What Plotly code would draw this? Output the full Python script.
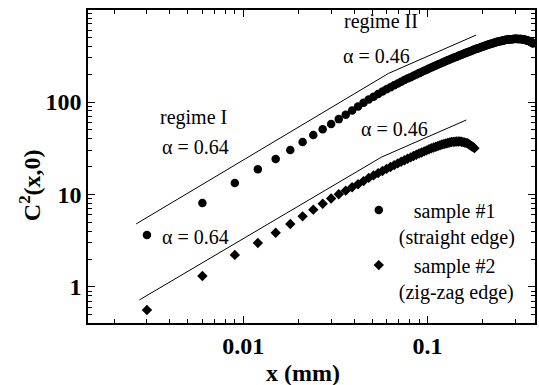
import plotly.graph_objects as go

# ---- data ----
x1 = [0.003, 0.006, 0.009, 0.012, 0.015, 0.018, 0.021, 0.024, 0.027, 0.030,
      0.033, 0.036, 0.039, 0.042, 0.045, 0.048, 0.051, 0.054, 0.057, 0.060,
      0.063, 0.066, 0.069, 0.072, 0.075, 0.078, 0.081, 0.084, 0.087, 0.090,
      0.093, 0.096, 0.099, 0.102, 0.105, 0.108, 0.111, 0.114, 0.117, 0.120,
      0.123, 0.126, 0.129, 0.132, 0.135, 0.138, 0.141, 0.144, 0.147, 0.150,
      0.153, 0.156, 0.159, 0.162, 0.165, 0.168, 0.171, 0.174, 0.177, 0.180,
      0.183, 0.186, 0.189, 0.192, 0.195, 0.198, 0.201, 0.204, 0.207, 0.210,
      0.213, 0.216, 0.219, 0.222, 0.225, 0.228, 0.231, 0.234, 0.237, 0.240,
      0.243, 0.246, 0.249, 0.252, 0.255, 0.258, 0.261, 0.264, 0.267, 0.270,
      0.273, 0.276, 0.279, 0.282, 0.285, 0.288, 0.291, 0.294, 0.297, 0.300,
      0.303, 0.306, 0.309, 0.312, 0.315, 0.318, 0.321, 0.324, 0.327, 0.330,
      0.333, 0.336, 0.339, 0.342, 0.345, 0.348, 0.351, 0.354, 0.357, 0.360,
      0.363, 0.366, 0.369, 0.372, 0.375]
y1 = [3.65, 8.1, 13.3, 18.7, 24.2, 30.3, 37.0, 44.0, 50.8, 57.8,
      65.3, 73.0, 81.0, 89.5, 98.0, 106.5, 114.1, 121.8, 129.7, 137.5,
      144.5, 151.6, 158.6, 165.6, 172.7, 179.2, 185.7, 192.3, 198.8, 205.3,
      211.4, 217.6, 223.7, 229.8, 235.9, 241.9, 248.0, 254.0, 260.0, 266.0,
      271.5, 277.0, 282.5, 287.8, 293.2, 298.6, 304.0, 309.4, 314.7, 320.1,
      325.1, 330.0, 334.9, 339.9, 344.7, 349.6, 354.5, 359.3, 364.2, 369.0,
      373.5, 377.9, 382.2, 386.6, 390.8, 395.2, 399.5, 403.8, 408.1, 412.3,
      415.9, 419.6, 423.2, 426.8, 430.4, 433.9, 437.5, 441.0, 444.5, 448.0,
      450.5, 452.9, 455.5, 457.9, 460.3, 462.8, 465.2, 467.6, 469.9, 472.3,
      473.4, 474.4, 475.4, 476.4, 477.4, 478.4, 479.4, 480.4, 481.4, 482.4,
      481.9, 481.4, 480.9, 480.5, 480.0, 479.6, 479.2, 478.7, 478.3, 477.8,
      475.2, 472.7, 470.2, 467.7, 465.3, 462.9, 460.5, 458.1, 455.8, 453.5,
      448.6, 443.9, 439.2, 434.6, 430.1]

x2 = [0.003, 0.006, 0.009, 0.012, 0.015, 0.018, 0.021, 0.024, 0.027, 0.030,
      0.033, 0.036, 0.039, 0.042, 0.045, 0.048, 0.051, 0.054, 0.057, 0.060,
      0.063, 0.066, 0.069, 0.072, 0.075, 0.078, 0.081, 0.084, 0.087, 0.090,
      0.093, 0.096, 0.099, 0.102, 0.105, 0.108, 0.111, 0.114, 0.117, 0.120,
      0.123, 0.126, 0.129, 0.132, 0.135, 0.138, 0.141, 0.144, 0.147, 0.150,
      0.153, 0.156, 0.159, 0.162, 0.165, 0.168, 0.171, 0.174, 0.177, 0.180]
y2 = [0.564, 1.315, 2.22, 2.99, 3.86, 4.80, 5.80, 6.85, 7.95, 9.05,
      10.05, 11.0, 11.95, 12.9, 13.95, 15.1, 16.08, 17.03, 17.97, 18.92,
      19.84, 20.75, 21.67, 22.58, 23.49, 24.33, 25.18, 26.02, 26.85, 27.69,
      28.47, 29.24, 30.02, 30.79, 31.56, 32.19, 32.81, 33.43, 34.04, 34.65,
      35.13, 35.60, 36.06, 36.52, 36.97, 37.09, 37.21, 37.33, 37.44, 37.56,
      37.19, 36.84, 36.48, 36.14, 35.81, 34.91, 34.07, 33.25, 32.48, 31.70]

# power-law guide lines (start, crossover, end)
fit1_x = [0.00262, 0.0615, 0.184]
fit1_y = [4.8, 204.0, 530.0]
fit2_x = [0.00273, 0.0564, 0.1626]
fit2_y = [0.724, 25.4, 63.9]

names = ["\u00a0\u00a0\u00a0sample #1<br>(straight edge)",
         "\u00a0\u00a0\u00a0sample #2<br>(zig-zag edge)"]

SERIF = "Liberation Serif, Times New Roman, serif"

fig = go.Figure()
fig.add_trace(go.Scatter(x=fit1_x, y=fit1_y, mode="lines",
                         line=dict(color="black", width=1), showlegend=False,
                         hoverinfo="skip"))
fig.add_trace(go.Scatter(x=fit2_x, y=fit2_y, mode="lines",
                         line=dict(color="black", width=1), showlegend=False,
                         hoverinfo="skip"))
fig.add_trace(go.Scatter(x=x1, y=y1, mode="markers", name=names[0],
                         marker=dict(symbol="circle", size=8.5, color="black")))
fig.add_trace(go.Scatter(x=x2, y=y2, mode="markers", name=names[1],
                         marker=dict(symbol="diamond", size=8, color="black")))

axis_common = dict(
    type="log", showgrid=False, zeroline=False,
    showline=True, linecolor="black", linewidth=1.5, mirror="ticks",
    ticks="inside", ticklen=7, tickwidth=1.2, tickcolor="black",
    dtick=1,
    tickfont=dict(family=SERIF, size=24, color="black", weight="bold"),
    minor=dict(ticks="inside", ticklen=4, tickwidth=1, tickcolor="black",
               dtick="D1", showgrid=False),
)

fig.update_layout(
    width=539, height=385,
    margin=dict(l=88, r=2, t=10, b=62),
    paper_bgcolor="white", plot_bgcolor="white",
    xaxis=dict(axis_common, range=[-2.843, -0.416]),
    yaxis=dict(axis_common, range=[-0.39, 2.995]),
    legend=dict(x=0.6058, y=0.423, xanchor="left", yanchor="top",
                bgcolor="rgba(0,0,0,0)", valign="top",
                font=dict(family=SERIF, size=20, color="black"),
                tracegroupgap=0),
    font=dict(family=SERIF, color="black"),
)

ann_font = dict(family=SERIF, size=20, color="black")
texts = [
    ("regime II", 0.6548, 0.9617),
    ("\u03b1 = 0.46", 0.6459, 0.853),
    ("regime I", 0.2361, 0.655),
    ("\u03b1 = 0.64", 0.2405, 0.5623),
    ("\u03b1 = 0.46", 0.686, 0.6198),
    ("\u03b1 = 0.64", 0.2405, 0.2748),
]
for t, xp, yp in texts:
    fig.add_annotation(text=t, x=xp, y=yp, xref="paper", yref="paper",
                       showarrow=False, font=ann_font,
                       xanchor="center", yanchor="middle")

fig.add_annotation(text="<b>x (mm)</b>", x=0.48, y=-0.16, xref="paper",
                   yref="paper", showarrow=False, xanchor="center",
                   yanchor="middle",
                   font=dict(family=SERIF, size=24, color="black"))
fig.add_annotation(text="<b>C<sup>2</sup>(x,0)</b>", x=-0.13, y=0.44,
                   xref="paper", yref="paper", showarrow=False,
                   textangle=-90, xanchor="center", yanchor="middle",
                   font=dict(family=SERIF, size=24, color="black"))

fig.write_html("out.html",
               config={"displayModeBar": False},
               post_script="document.body.style.margin='0';"
                           "document.body.style.overflow='hidden';")
